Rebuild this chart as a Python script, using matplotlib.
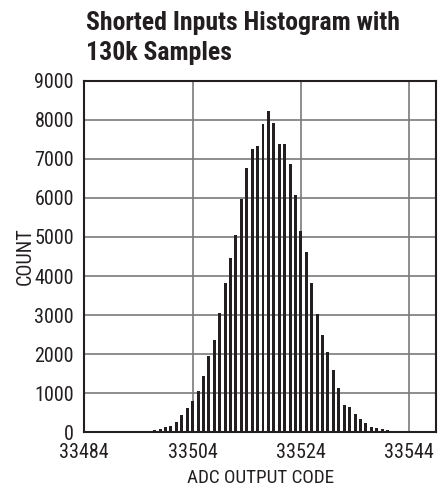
import numpy as np
import matplotlib
matplotlib.use("Agg")
import matplotlib.pyplot as plt

# ADC output codes and the count for each code
codes = list(range(33493, 33544))
counts = [15, 25, 43, 45, 68, 95, 128, 171, 264, 435,
          614, 795, 1045, 1448, 1960, 2361, 3060, 3830, 4460, 5048,
          5960, 6771, 7249, 7317, 7890, 8230, 7915, 7378, 7378, 6866,
          6072, 5141, 4625, 3826, 3025, 2488, 2054, 1600, 1130, 695,
          639, 480, 340, 230, 143, 102, 77, 51, 41, 33,
          25]

x_ticks = [33484, 33504, 33524, 33544]
y_ticks = list(range(0, 9001, 1000))

# condensed face, like the datasheet's Helvetica Condensed
plt.rcParams['font.family'] = ['Roboto Condensed', 'Liberation Sans', 'DejaVu Sans']

fig = plt.figure(figsize=(4.47, 4.92), dpi=100)
ax = fig.add_axes([0.1886, 0.1213, 0.976 - 0.1886, 0.836 - 0.1213])

ax.bar(codes, counts, width=0.55, color='#231f20', zorder=3)

ax.set_xlim(33484, 33549)
ax.set_ylim(0, 9000)
ax.set_xticks(x_ticks)
ax.set_yticks(y_ticks)
ax.tick_params(length=0, labelsize=14.5, colors='#231f20', pad=7.5)
ax.tick_params(axis='x', pad=8)
ax.grid(True, color='#7a7a7a', linewidth=1.2, zorder=1)
for s in ax.spines.values():
    s.set_linewidth(1.5)
    s.set_color('#231f20')

ax.set_xlabel('ADC OUTPUT CODE', fontsize=13.8, color='#231f20', labelpad=5)
ax.set_ylabel('COUNT', fontsize=14.5, color='#231f20', labelpad=0)

fig.text(86 / 447, 1 - 11 / 492, 'Shorted Inputs Histogram with\n130k Samples',
         fontsize=18.5, fontweight='bold', color='#231f20', ha='left', va='top',
         linespacing=1.3)

fig.savefig('out.png', dpi=100)
